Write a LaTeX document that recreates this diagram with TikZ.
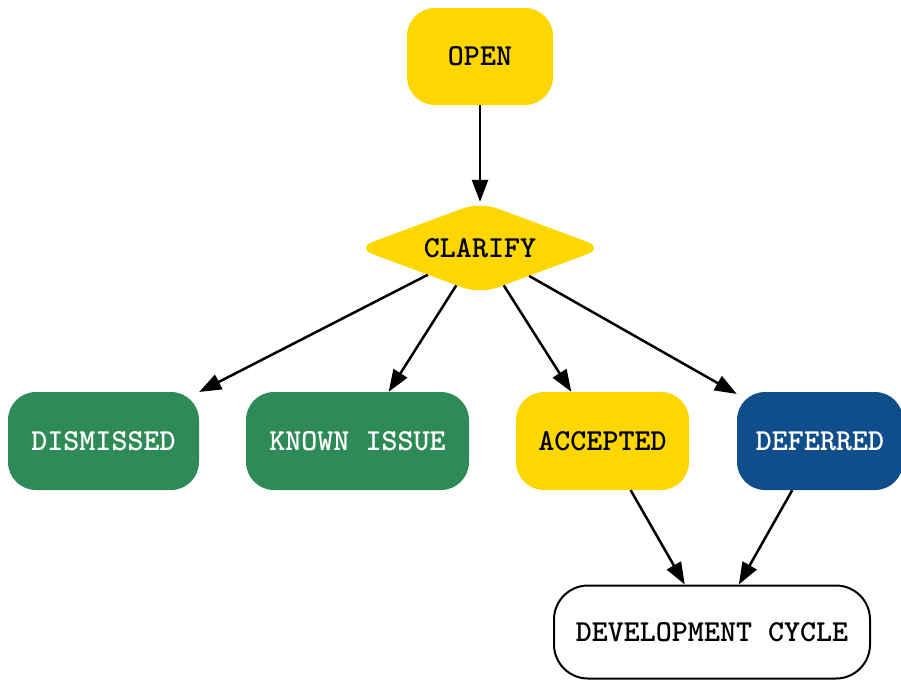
\documentclass[tikz,border=0pt]{standalone}
\usepackage{fontspec}
\usetikzlibrary{shapes.geometric,arrows.meta}
\definecolor{gold}{HTML}{FFD700}
\definecolor{seagreen}{HTML}{2E8B57}
\definecolor{deepblue}{HTML}{104E8B}
\tikzset{
  lbl/.style={font=\ttfamily\bfseries\fontsize{30.5}{34}\selectfont},
  box/.style={rectangle, rounded corners=28pt, inner sep=0pt, lbl},
  goldbox/.style={box, fill=gold, text=black},
  greenbox/.style={box, fill=seagreen, text=white},
  bluebox/.style={box, fill=deepblue, text=white},
  whitebox/.style={box, draw=black, line width=2pt, fill=white, text=black, rounded corners=34pt},
  decision/.style={diamond, fill=gold, rounded corners=18pt, inner sep=0pt, shape aspect=2.65, lbl},
  edge/.style={line width=2.5pt, -{Triangle[length=22pt,width=16pt]}}
}
\begin{document}
\begin{tikzpicture}[x=1pt,y=-1pt]
\useasboundingbox (0,0) rectangle (901,681);
\node[goldbox, minimum width=146pt, minimum height=97pt] (open) at (480,56.5) {OPEN};
\node[decision, minimum width=248pt, minimum height=92pt] (clarify) at (480,248) {CLARIFY};
\node[greenbox, minimum width=191pt, minimum height=98pt] (dismissed) at (103.5,441) {DISMISSED};
\node[greenbox, minimum width=223pt, minimum height=98pt] (known) at (357.5,441) {KNOWN ISSUE};
\node[goldbox, minimum width=173pt, minimum height=98pt] (accepted) at (602.5,441) {ACCEPTED};
\node[bluebox, minimum width=166pt, minimum height=98pt] (deferred) at (820,441) {DEFERRED};
\node[whitebox, minimum width=316pt, minimum height=93pt] (dev) at (712,632) {DEVELOPMENT CYCLE};
\draw[edge] (open) -- (clarify);
\draw[edge] (clarify) -- (dismissed);
\draw[edge] (clarify) -- (known);
\draw[edge] (clarify) -- (accepted);
\draw[edge] (clarify) -- (deferred);
\draw[edge] (accepted) -- (dev);
\draw[edge] (deferred) -- (dev);
\end{tikzpicture}
\end{document}
